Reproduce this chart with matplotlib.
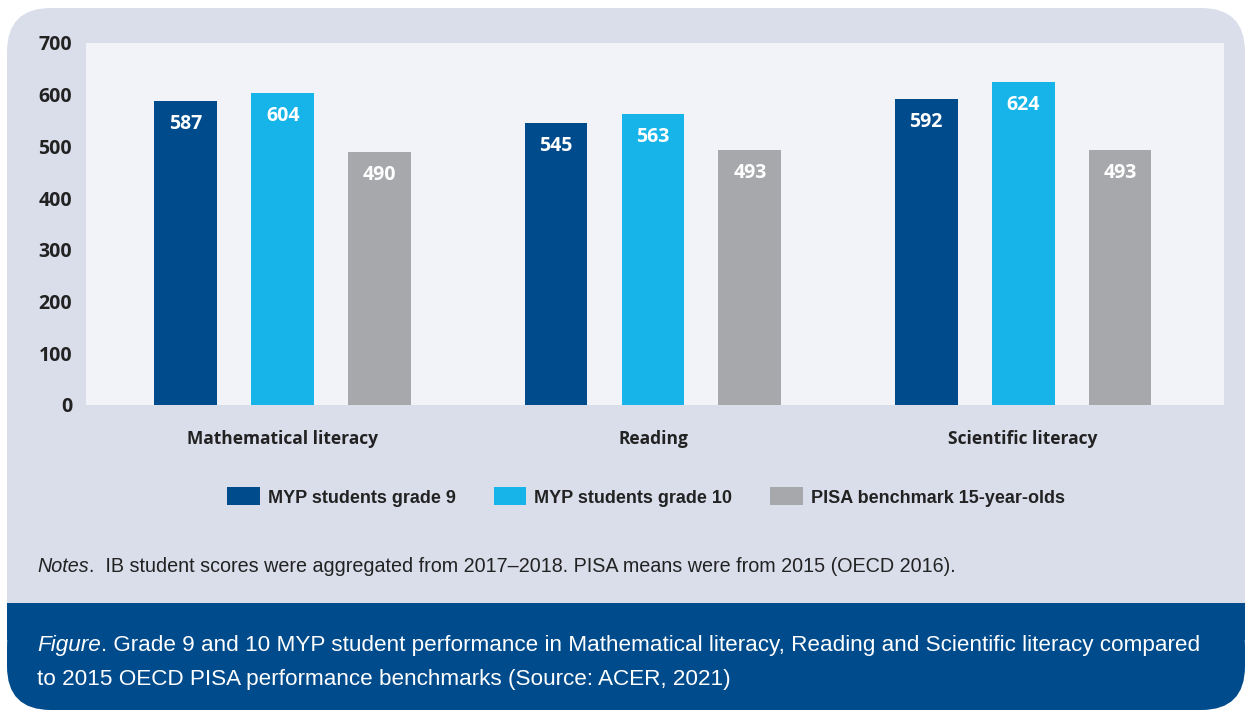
import matplotlib.pyplot as plt
import numpy as np
from matplotlib.patches import FancyBboxPatch, Rectangle

# data
categories = ['Mathematical literacy', 'Reading', 'Scientific literacy']
grade9 = [587, 545, 592]
grade10 = [604, 563, 624]
pisa = [490, 493, 493]
series_names = ['MYP students grade 9', 'MYP students grade 10', 'PISA benchmark 15-year-olds']
colors = ['#004b8c', '#16b4e9', '#a7a8ab']
yticks = [0, 100, 200, 300, 400, 500, 600, 700]

W, H = 1252, 713
fig = plt.figure(figsize=(W / 100, H / 100), dpi=100)
fig.patch.set_facecolor('white')

narrow = ['Liberation Sans Narrow', 'Liberation Sans', 'DejaVu Sans']
lab_font = ['Open Sans', 'DejaVu Sans']

def fx(px):
    return px / W

def fy(py):
    return 1 - py / H

# rounded lavender panel
panel = FancyBboxPatch((fx(7), fy(710)), fx(1245) - fx(7), fy(8) - fy(710),
                       boxstyle='round,pad=0,rounding_size=0.035', transform=fig.transFigure,
                       facecolor='#dadeeb', edgecolor='none', zorder=-3, mutation_aspect=W / H)
fig.patches.append(panel)
# dark caption band with rounded bottom corners
band = FancyBboxPatch((fx(7), fy(710)), fx(1245) - fx(7), fy(603) - fy(710),
                      boxstyle='round,pad=0,rounding_size=0.035', transform=fig.transFigure,
                      facecolor='#004b8c', edgecolor='none', zorder=-2, mutation_aspect=W / H)
fig.patches.append(band)
fig.patches.append(Rectangle((fx(7), fy(640)), fx(1245) - fx(7), fy(603) - fy(640),
                             transform=fig.transFigure, facecolor='#004b8c', edgecolor='none', zorder=-2))

ax = fig.add_axes([fx(86), fy(405), fx(1224) - fx(86), fy(43) - fy(405)])
ax.set_facecolor('#f2f3f8')

x = np.arange(len(categories))
bw = 0.17
step = 0.262
for i, (vals, name, c) in enumerate(zip([grade9, grade10, pisa], series_names, colors)):
    bars = ax.bar(x + (i - 1) * step, vals, bw, color=c, label=name, zorder=2)
    for b, v in zip(bars, vals):
        ax.annotate(str(v), (b.get_x() + b.get_width() / 2, v), xytext=(0, -23),
                    textcoords='offset pixels',
                    ha='center', va='center', color='white', fontsize=14,
                    fontweight='bold', family=lab_font, zorder=3)

ax.set_xlim(-0.532, 2.543)
ax.set_ylim(0, 700)
ax.set_yticks(yticks)
ax.set_yticklabels([str(t) for t in yticks], fontsize=14, fontweight='bold',
                   family=lab_font, color='#222222')
ax.set_xticks(x)
ax.set_xticklabels(categories, fontsize=12.5, fontweight='bold', family=lab_font, color='#222222')
ax.tick_params(axis='both', length=0)
ax.tick_params(axis='y', pad=10)
ax.tick_params(axis='x', pad=18)
for s in ax.spines.values():
    s.set_visible(False)

leg = fig.legend(loc='center', bbox_to_anchor=(fx(646), fy(497)), ncol=3, frameon=False,
                 handlelength=1.8, handleheight=1.15, columnspacing=2.1, handletextpad=0.45,
                 prop={'family': narrow, 'weight': 'bold', 'size': 13})
for t in leg.get_texts():
    t.set_color('#222222')

# italic lead-in words followed by regular text
renderer = fig.canvas.get_renderer()

def lead_text(px, py, lead, rest, size, color):
    t1 = fig.text(fx(px), fy(py), lead, fontsize=size, family=narrow, style='italic',
                  color=color, va='center', zorder=5)
    bb = t1.get_window_extent(renderer)
    fig.text(bb.x1 / W, fy(py), rest, fontsize=size, family=narrow,
             color=color, va='center', zorder=5)

lead_text(37, 566, 'Notes', '.  IB student scores were aggregated from 2017–2018. PISA means were from 2015 (OECD 2016).',
          14.2, '#222222')
lead_text(37, 645, 'Figure', '. Grade 9 and 10 MYP student performance in Mathematical literacy, Reading and Scientific literacy compared',
          16.2, 'white')
fig.text(fx(37), fy(680), 'to 2015 OECD PISA performance benchmarks (Source: ACER, 2021)',
         fontsize=16.2, family=narrow, color='white', va='center', zorder=5)

fig.savefig('out.png', dpi=100, facecolor=fig.get_facecolor())
